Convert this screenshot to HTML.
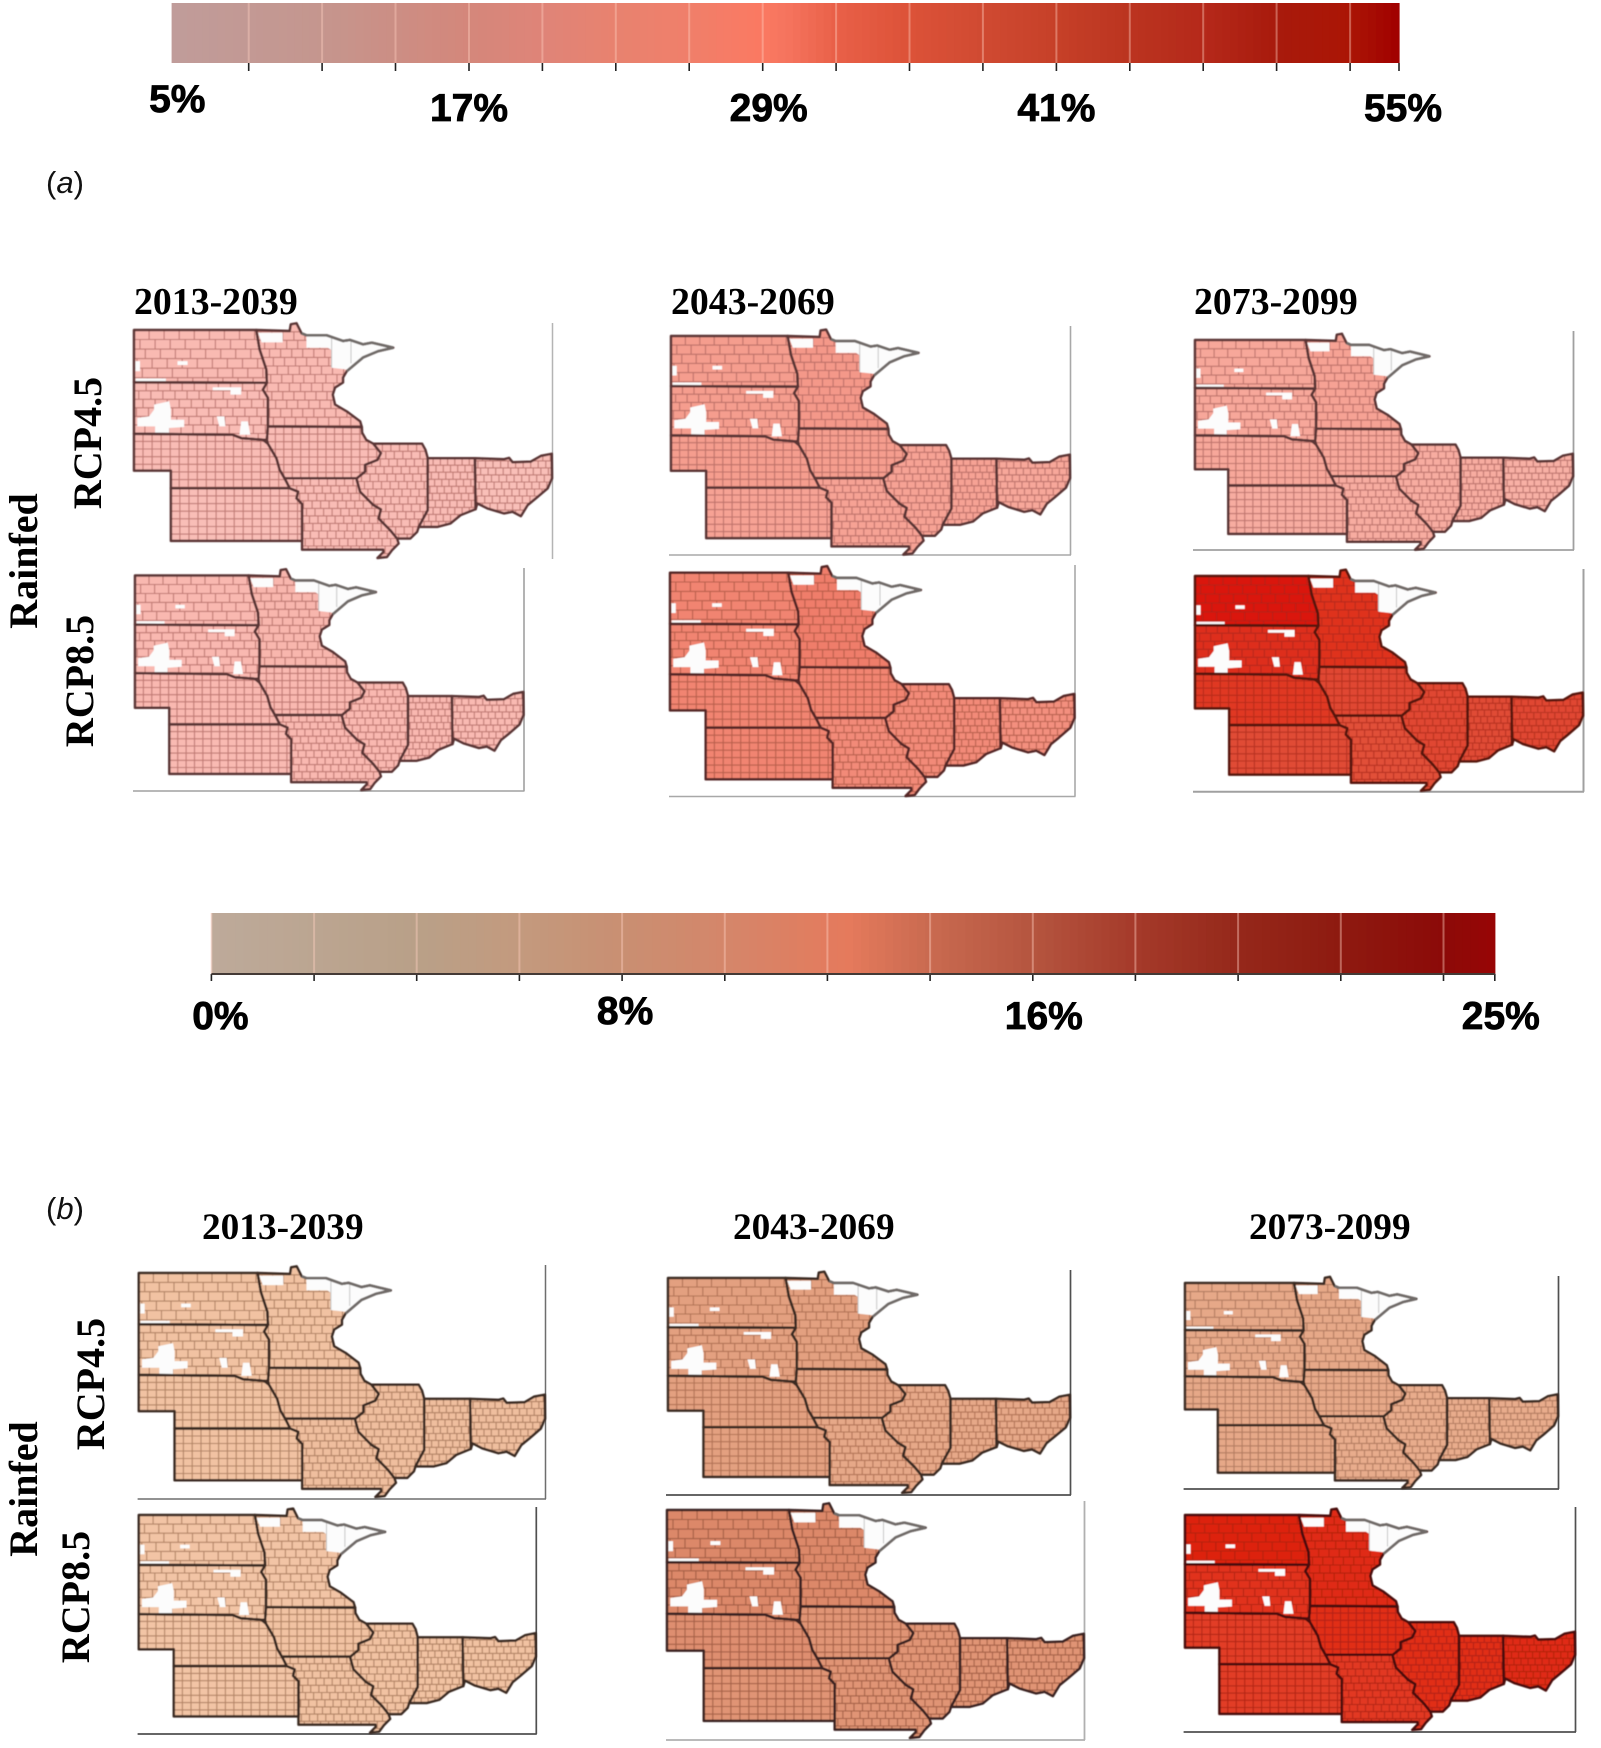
<!DOCTYPE html>
<html lang="en">
<head>
<meta charset="utf-8">
<title>Projected change maps, rainfed</title>
<style>
html,body{margin:0;padding:0;background:#fff;}
svg{display:block;}
.bar-lab{font-family:"Liberation Sans",sans-serif;font-weight:700;fill:#000;stroke:#000;stroke-width:.8px;}
.head{font-family:"Liberation Serif",serif;font-weight:700;font-size:37.8px;fill:#000;}
.headb{font-family:"Liberation Serif",serif;font-weight:700;font-size:37.3px;fill:#000;}
.side{font-family:"Liberation Serif",serif;font-weight:700;font-size:40px;fill:#000;}
.part{font-family:"Liberation Sans",sans-serif;font-size:31px;fill:#111;}
</style>
</head>
<body>
<svg id="fig" xmlns="http://www.w3.org/2000/svg" width="1601" height="1748" viewBox="0 0 1601 1748">
  <defs>
    <filter id="soft" x="-2%" y="-2%" width="104%" height="104%"><feGaussianBlur stdDeviation="0.6"/></filter>
  </defs>
  <rect x="0" y="0" width="1601" height="1748" fill="#ffffff"/>

  <text class="part" x="46" y="193">(<tspan font-style="italic">a</tspan>)</text>
  <text class="part" x="46" y="1219">(<tspan font-style="italic">b</tspan>)</text>

  <text class="head" x="134" y="314">2013-2039</text>
  <text class="head" x="671" y="314">2043-2069</text>
  <text class="head" x="1194" y="314">2073-2099</text>
  <text class="headb" x="202" y="1239">2013-2039</text>
  <text class="headb" x="733" y="1239">2043-2069</text>
  <text class="headb" x="1249" y="1239">2073-2099</text>

  <text class="side" transform="translate(101,443) rotate(-90)" text-anchor="middle">RCP4.5</text>
  <text class="side" transform="translate(93,681) rotate(-90)" text-anchor="middle">RCP8.5</text>
  <text class="side" transform="translate(37,561) rotate(-90)" text-anchor="middle">Rainfed</text>
  <text class="side" transform="translate(104,1384) rotate(-90)" text-anchor="middle">RCP4.5</text>
  <text class="side" transform="translate(89,1597) rotate(-90)" text-anchor="middle">RCP8.5</text>
  <text class="side" transform="translate(37,1489) rotate(-90)" text-anchor="middle">Rainfed</text>

  <g id="layer"></g>
</svg>
<script>
// ---- chart data ----
const stateNames = ['ND','SD','NE','KS','MN','IA','MO','IL','IN','OH'];

const a4513 = [18.5,18,18,17.5,18.5,18,18,18,18,17];
const a4543 = [25,25,25,24,26,25,24,24,24,23];
const a4573 = [23,23,23,22,24,23,22,22,22,21];
const a8513 = [19,19,19,18.5,19.5,19,19,19,19,18.5];
const a8543 = [30,30,30,30,31,30,29,29,29,28];
const a8573 = [53,48,46,42,47,43,41,43,42,43];

const b4513 = [6,6,6,6,6,6.5,6.5,6.5,6.5,6.5];
const b4543 = [10,10,10,10,10,9.5,9,9,9,9];
const b4573 = [9,9,9,9,9,9,8.5,8.5,8.5,8.5];
const b8513 = [5.5,5.5,5.5,5.5,5.5,6,6,6,6,6];
const b8543 = [12,12,11.5,11,12,11,11,11,11,11];
const b8573 = [23,21,20,20,22,21.5,20.5,21.5,21.5,22];

// colour bar (a)
const barATicks = [8,11,14,17,20,23,26,29,32,35,38,41,44,47,50,53,55];
const barALabels = ['5%','17%','29%','41%','55%'];
const barALabelValues = [5,17,29,41,55];
const barARampValues = [4.85,11,14,17,20,23,26,29,30,32,35,38,41,44,47,50,53,55];
const barARampColors = ['#c09c9a','#c5968e','#cc8e84','#d4877b','#df8478','#e8826f','#f07f6a','#fb7962','#f5745e','#e96048','#dc5238','#d04a32','#c64028','#bb3420','#b5291a','#a81a0c','#ab1505','#a00000'];

// colour bar (b)
const barBTicks = [0,2,4,6,8,10,12,14,16,18,20,22,24,25];
const barBLabels = ['0%','8%','16%','25%'];
const barBLabelValues = [0,8,16,25];
const barBRampValues = [0,4,6,8,10,12.4,14,16,18,20,22,24,25];
const barBRampColors = ['#bdaa9a','#b9a088','#c39a7e','#c98f72','#d4866a','#e57a5c','#c96a50','#b5553f','#a53a2a','#95281a','#8e1a10','#8c0a08','#980505'];

// map shading ramps
const mapARampValues = [10,18,22,24,29,36,42,46,50,54];
const mapARampColors = ['#fad4cf','#f9bcb5','#f7aca0','#f6a294','#f28a78','#e85e48','#e04c36','#e03823','#dc2412','#d9120a'];
const mapBRampValues = [3,5,6,8,10,12,16,20,22,25];
const mapBRampColors = ['#f6d0b6','#f3c6a8','#f1c2a2','#e9b090','#e3a080','#dc8869','#dc5a40','#e23c26','#e02a14','#d81000'];

// ---- map geography (template outline traced from the first panel, not data) ----
const T_X0 = 135, T_X1 = 551, T_Y0 = 330.7, T_Y1 = 557.7;
const shapes = {
  ND:[[135,330.7],[256.7,330.7],[260,350],[266.7,370],[267.3,383.3],[135,382.7]],
  SD:[[135,382.7],[267.3,383.3],[263.3,390],[268.3,398.3],[268.3,426.7],[267.3,440],[263.3,440],[241.7,438.3],[233.3,435],[135,434]],
  NE:[[135,434],[233.3,435],[241.7,438.3],[263.3,440],[268.3,444],[276.7,458.3],[280,470],[286.7,481.7],[290,488.3],[171.7,488.3],[171.7,470.7],[135,470.7]],
  KS:[[171.7,488.3],[290,488.3],[298.3,491.7],[296.7,498.3],[302.3,504],[302.3,540.7],[171.7,540.7]],
  MN:[[256.7,330.7],[290,331.7],[291,325],[296.7,324],[301.7,334],[306.7,336],[326.7,336],[343,341.7],[350,340.7],[363,345],[371.7,343.3],[393,348.3],[378,351.7],[363,358],[346.7,371.7],[343,378],[343,383],[335,388],[332.7,395],[335,405],[346.7,411.7],[360,421.7],[361.7,427.3],[268.3,426.7],[268.3,398.3],[263.3,390],[267.3,383.3],[266.7,370],[260,350]],
  IA:[[268.3,426.7],[361.7,427.3],[362,433],[366,440],[373.3,444],[380.7,453.3],[377.3,460],[365,465],[365,471.7],[356.7,478.3],[285,478.3],[280,470],[276.7,458.3],[268.3,444],[267.3,440]],
  MO:[[285,478.3],[356.7,478.3],[356.7,480],[360,491.7],[373.3,505],[380.7,509.3],[378.3,518.3],[390,530],[396.7,538.3],[398.3,543.3],[391.7,550],[386.7,556.7],[377.3,557.7],[383.3,551.7],[383,549.3],[302.3,549.3],[302.3,504],[296.7,498.3],[298.3,491.7],[290,488.3],[286.7,481.7]],
  IL:[[373.3,444],[421.7,444],[425,450],[427.3,458.3],[427.3,510],[418.3,526.7],[416.7,531.7],[410,538.3],[396.7,538.3],[390,530],[378.3,518.3],[380.7,509.3],[373.3,505],[360,491.7],[356.7,480],[356.7,478.3],[365,471.7],[365,465],[377.3,460],[380.7,453.3]],
  IN:[[427.3,458.3],[474.3,458.3],[475,509],[460,515],[450,523.3],[436.7,526.7],[418.3,526.7],[427.3,510]],
  OH:[[474.3,458.3],[503.3,459.3],[508.3,458],[511.7,462.3],[530,461.7],[540,456],[550.7,454],[551,478.3],[546.7,488.3],[535,498.3],[526.7,505],[520,516],[511.7,511.7],[503.3,513.3],[486.7,508.3],[476.7,503.3],[475,509]]
};
// county mesh per state: cell width, cell height, staggered rows
const meshW = {ND:15,SD:12,NE:9,KS:9,MN:11,IA:8.4,MO:8.5,IL:8.5,IN:7.2,OH:7.5};
const meshH = {ND:9.5,SD:8.5,NE:7.6,KS:7.6,MN:8.5,IA:7.6,MO:7.5,IL:7.5,IN:7,OH:7};
const meshBrick = {ND:1,SD:1,NE:0,KS:0,MN:1,IA:0,MO:1,IL:1,IN:1,OH:1};
const brickShift = [0,.4,.75,.2,.55,.9,.3];
const blanks = [
  [[306.7,337],[326.7,337],[343,341.7],[350,340.7],[363,345],[371.7,343.3],[393,348.3],[378,351.7],[363,358],[346.7,370],[331.7,368.3],[331.7,350.7],[328,348.3],[306.7,348.3]],
  [[258.5,333.5],[283,333.5],[283,343],[262,343]],
  [[136.5,361.7],[141,361.7],[141,371.7],[136.5,371.7]],
  [[178.3,361.7],[188.3,361.7],[188.3,365.5],[178.3,365.5]],
  [[136.7,379],[166.7,379],[166.7,382],[136.7,382]],
  [[213.3,387.7],[241.7,387.7],[241.7,395],[231,395],[231,390.7],[213.3,390.7]],
  [[155,405],[170,401.7],[171.7,410],[171.7,420],[185,420],[185,427.3],[170,428.3],[170,433.3],[156,433.3],[156,426.7],[138.3,426.7],[138.3,418.3],[150,416.7],[155,410]],
  [[217.3,416.7],[225,416.7],[226,426.7],[220,426.7]],
  [[241.7,421.7],[248.3,421.7],[250.7,435],[240,435]]
];
const arrowhead = [[301.7,334],[306.7,336],[326.7,336],[343,341.7],[350,340.7],[363,345],[371.7,343.3],[393,348.3],[378,351.7],[363,358],[346.7,371.7]];
const arrowheadCounties = [[[331.7,338],[331.7,368]],[[351,341],[351,364]]];

// ---- helpers ----
const NS = 'http://www.w3.org/2000/svg';
const layer = document.getElementById('layer');
function mk(tag, attrs, parent){
  const el = document.createElementNS(NS, tag);
  for (const k in attrs) el.setAttribute(k, attrs[k]);
  (parent || layer).appendChild(el);
  return el;
}
function hex(c){ return [1,3,5].map(i => parseInt(c.substr(i,2),16)); }
function rampColor(vals, cols, v){
  if (v <= vals[0]) return cols[0];
  for (let i = 1; i < vals.length; i++){
    if (v <= vals[i]){
      const t = (v - vals[i-1]) / (vals[i] - vals[i-1]);
      const a = hex(cols[i-1]), b = hex(cols[i]);
      return 'rgb(' + a.map((c,j) => Math.round(c + (b[j]-c)*t)).join(',') + ')';
    }
  }
  return cols[cols.length-1];
}

// ---- colour bars ----
function drawBar(id, x0, x1, d0, d1, top, bottom, tickLen, ticks, labels, labelValues, rv, rc, tickColor, lineOp, nudge){
  const g = mk('g', {});
  
  
  const sx = v => x0 + (v - d0) / (d1 - d0) * (x1 - x0);
  const stepV = (d1 - d0) / 160;
  for (let i = 0; i < 160; i++){
    const v = d0 + stepV * i;
    const band = mk('rect', {x: sx(v).toFixed(2), y: top, width: (sx(v + stepV) - sx(v) + 0.6).toFixed(2), height: bottom - top, fill: rampColor(rv, rc, v + stepV/2)}, g);
    
    
  }
  ticks.forEach(v => {
    const x = sx(v).toFixed(1);
    if (v !== d1){
      const lite = mk('line', {x1: x, x2: x, y1: top, y2: bottom, stroke: '#ffd0c0', 'stroke-opacity': lineOp, 'stroke-width': 2}, g);
      
      
    }
    const t = mk('line', {x1: x, x2: x, y1: bottom, y2: bottom + tickLen, stroke: tickColor, 'stroke-width': 1.6}, g);
    
    
  });
  labels.forEach((lab, i) => {
    const n = nudge(labelValues[i]);
    const t = mk('text', {x: (sx(labelValues[i]) + n[0]).toFixed(1), y: n[1], 'text-anchor': 'middle', 'class': 'bar-lab', 'font-size': 39}, g);
    t.textContent = lab;
    
    
  });
  return sx;
}
drawBar('a', 171.6, 1399, 4.85, 55, 3, 63, 8, barATicks, barALabels, barALabelValues, barARampValues, barARampColors, '#222222', 0.4,
  v => v === 5 ? [2, 112] : [v === 29 ? 6 : v === 41 ? 0 : v === 17 ? 0 : 4, 121]);
drawBar('b', 211.4, 1494.8, 0, 25, 913, 974, 7, barBTicks, barBLabels, barBLabelValues, barBRampValues, barBRampColors, '#222222', 0.42,
  v => v === 8 ? [3, 1024] : [v === 16 ? 11 : v === 25 ? 6 : 9, 1029]);
const darkRule = mk('rect', {x: 211.4, y: 973, width: 1283.4, height: 2, fill: '#443a36'});



// ---- maps ----
let uid = 0;
function drawMap(name, values, rv, rc, x0, x1, y0, y1, frameLeft, frameTop, frameBottom, frameColor, frameWidth, hasBottom, borderColor, countyColor){
  const X = u => x0 + (u - T_X0) / (T_X1 - T_X0) * (x1 - x0);
  const Y = v => y0 + (v - T_Y0) / (T_Y1 - T_Y0) * (y1 - y0);
  const pts = arr => arr.map(p => X(p[0]).toFixed(1) + ',' + Y(p[1]).toFixed(1)).join(' ');
  const g = mk('g', {});
  
  

  const right = mk('line', {x1: x1 + 0.5, x2: x1 + 0.5, y1: frameTop, y2: frameBottom, stroke: frameColor, 'stroke-width': frameWidth}, g);
  
  
  if (hasBottom){
    const bot = mk('line', {x1: frameLeft, x2: x1 + 1, y1: frameBottom, y2: frameBottom, stroke: frameColor, 'stroke-width': frameWidth}, g);
    
    
  }

  const soft = mk('g', {filter: 'url(#soft)'}, g);
  
  

  stateNames.forEach((s, i) => {
    const poly = mk('polygon', {points: pts(shapes[s]), fill: rampColor(rv, rc, values[i])}, soft);
    
    
  });

  stateNames.forEach(s => {
    const id = 'c' + (uid++);
    const cp = mk('clipPath', {id: id}, soft);
    mk('polygon', {points: pts(shapes[s])}, cp);
    const sx = meshW[s], sy = meshH[s];
    const us = shapes[s].map(p => p[0]), vs = shapes[s].map(p => p[1]);
    const uMin = Math.min.apply(null, us), uMax = Math.max.apply(null, us);
    const vMin = Math.min.apply(null, vs), vMax = Math.max.apply(null, vs);
    let d = '';
    let row = 0;
    for (let v = vMin; v < vMax; v += sy, row++){
      if (row > 0) d += 'M' + X(uMin).toFixed(1) + ' ' + Y(v).toFixed(1) + 'H' + X(uMax).toFixed(1);
      const shift = meshBrick[s] ? brickShift[row % brickShift.length] * sx : 0;
      for (let u = uMin + shift; u < uMax; u += sx){
        d += 'M' + X(u).toFixed(1) + ' ' + Y(v).toFixed(1) + 'V' + Y(v + sy).toFixed(1);
      }
    }
    const grid = mk('path', {d: d, fill: 'none', stroke: countyColor, 'stroke-opacity': 0.72, 'stroke-width': 1.1, 'clip-path': 'url(#' + id + ')'}, soft);
    
    
  });

  blanks.forEach(b => {
    const w = mk('polygon', {points: pts(b), fill: '#fcfcfc'}, soft);
    
    
  });
  arrowheadCounties.forEach(seg => {
    const c = mk('polyline', {points: pts(seg), fill: 'none', stroke: '#c4c4c4', 'stroke-width': 1}, soft);
    
    
  });

  stateNames.forEach(s => {
    const line = mk('polygon', {points: pts(shapes[s]), fill: 'none', stroke: borderColor, 'stroke-width': 2.5, 'stroke-linejoin': 'round'}, soft);
    
    
  });

  const tip = mk('polyline', {points: pts(arrowhead), fill: 'none', stroke: '#6f6a68', 'stroke-width': 2.6}, soft);
  
  
}

const borderA = '#5a3434', countyA = '#a8605a';
drawMap('a-rcp45-2013-2039', a4513, mapARampValues, mapARampColors, 134, 552, 330, 558, 134, 323, 559, '#b4b4b4', 1.5, false, borderA, countyA);
drawMap('a-rcp45-2043-2069', a4543, mapARampValues, mapARampColors, 671, 1070, 336, 554.5, 669, 326, 555, '#a8a8a8', 1.6, true, borderA, countyA);
drawMap('a-rcp45-2073-2099', a4573, mapARampValues, mapARampColors, 1195, 1573, 340, 549.6, 1193, 331, 550, '#a0a0a0', 1.8, true, borderA, countyA);
drawMap('a-rcp85-2013-2039', a8513, mapARampValues, mapARampColors, 135, 523.5, 575.5, 790, 133, 568, 791, '#a0a0a0', 1.6, true, borderA, countyA);
drawMap('a-rcp85-2043-2069', a8543, mapARampValues, mapARampColors, 670, 1074.5, 572.7, 796, 669, 565, 796.5, '#a8a8a8', 1.6, true, '#552826', '#a2503f');
drawMap('a-rcp85-2073-2099', a8573, mapARampValues, mapARampColors, 1195, 1583, 576, 790.7, 1193, 569, 791.7, '#a0a0a0', 2, true, '#561810', '#a8281a');

const borderB = '#3a2a24', countyB = '#98694c';
drawMap('b-rcp45-2013-2039', b4513, mapBRampValues, mapBRampColors, 138.8, 545, 1273, 1497, 137.6, 1265, 1499, '#6e6e6e', 1.5, true, borderB, countyB);
drawMap('b-rcp45-2043-2069', b4543, mapBRampValues, mapBRampColors, 668, 1070, 1278, 1493, 666, 1270, 1495, '#505050', 1.7, true, borderB, '#9e6044');
drawMap('b-rcp45-2073-2099', b4573, mapBRampValues, mapBRampColors, 1185, 1558, 1283, 1488, 1183.6, 1276, 1489, '#505050', 1.7, true, borderB, '#9e6a50');
drawMap('b-rcp85-2013-2039', b8513, mapBRampValues, mapBRampColors, 138.8, 535.8, 1515, 1732.7, 137.6, 1507, 1734, '#505050', 1.7, true, borderB, countyB);
drawMap('b-rcp85-2043-2069', b8543, mapBRampValues, mapBRampColors, 667, 1084, 1510, 1738, 666, 1501, 1740, '#b0b0b0', 1.8, true, '#3a2420', '#8e4c36');
drawMap('b-rcp85-2073-2099', b8573, mapBRampValues, mapBRampColors, 1185, 1575, 1515, 1730, 1183.6, 1507, 1732, '#505050', 1.7, true, '#480f08', '#a2200f');
</script>
</body>
</html>
